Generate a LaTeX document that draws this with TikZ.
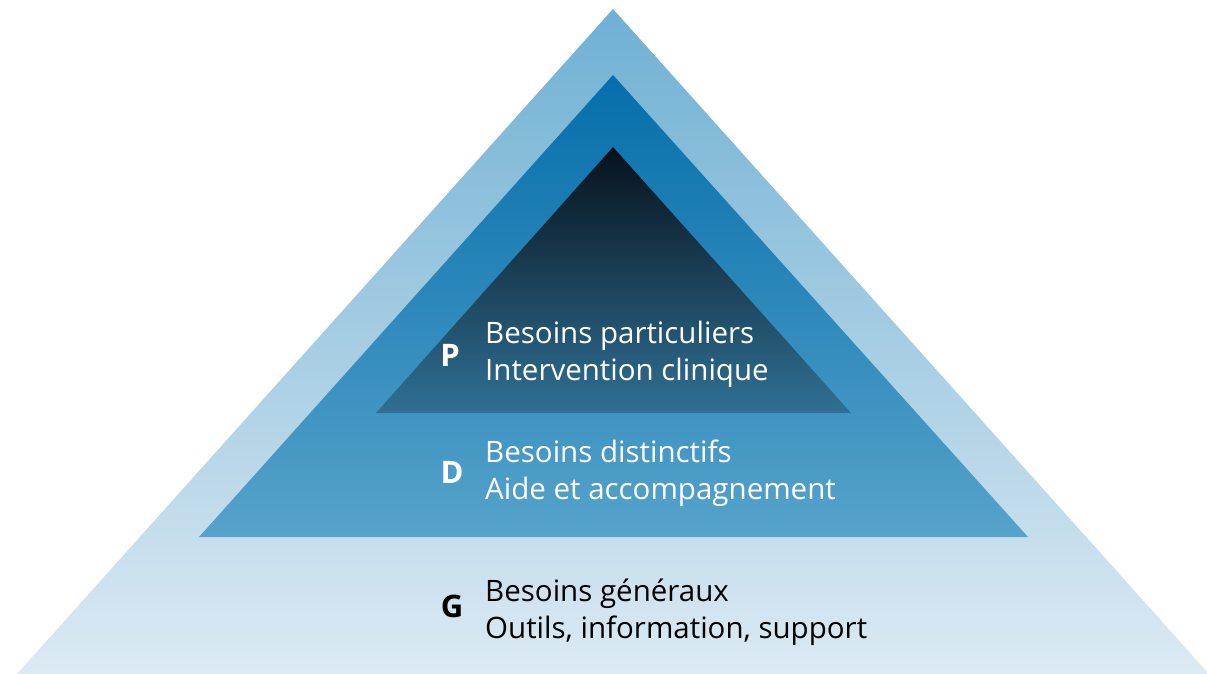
\documentclass[tikz,border=0pt]{standalone}
\usepackage{fontspec}
\setmainfont{Open Sans}
\definecolor{outerTop}{RGB}{111,176,211}
\definecolor{outerBot}{RGB}{220,234,243}
\definecolor{midTop}{RGB}{5,110,170}
\definecolor{midBot}{RGB}{86,163,203}
\definecolor{innTop}{RGB}{6,18,28}
\definecolor{innBot}{RGB}{48,112,148}
\tikzset{
  lbl/.style={anchor=base west, inner sep=0pt, font=\fontsize{29.5}{34}\selectfont},
  letter/.style={anchor=center, inner sep=0pt, font=\fontsize{31}{34}\selectfont\bfseries}
}
\begin{document}
\begin{tikzpicture}[x=1pt,y=-1pt]
\useasboundingbox (0,0) rectangle (1207,674);
\path[top color=outerTop, bottom color=outerBot] (613,9) -- (1209,674) -- (17,674) -- cycle;
\path[top color=midTop, bottom color=midBot] (613,75) -- (1028,537) -- (199,537) -- cycle;
\path[top color=innTop, bottom color=innBot] (613,147) -- (851,413) -- (376,413) -- cycle;
\node[letter, text=white] (p) at (450,355) {P};
\node[lbl, text=white] (p1) at (485,343) {Besoins particuliers};
\node[lbl, text=white] (p2) at (485,380) {Intervention clinique};
\node[letter, text=white] (d) at (452,472) {D};
\node[lbl, text=white] (d1) at (485,462) {Besoins distinctifs};
\node[lbl, text=white] (d2) at (485,499) {Aide et accompagnement};
\node[letter, text=black] (g) at (452,606) {G};
\node[lbl, text=black] (g1) at (485,601) {Besoins généraux};
\node[lbl, text=black] (g2) at (485,638) {Outils, information, support};
\end{tikzpicture}
\end{document}
